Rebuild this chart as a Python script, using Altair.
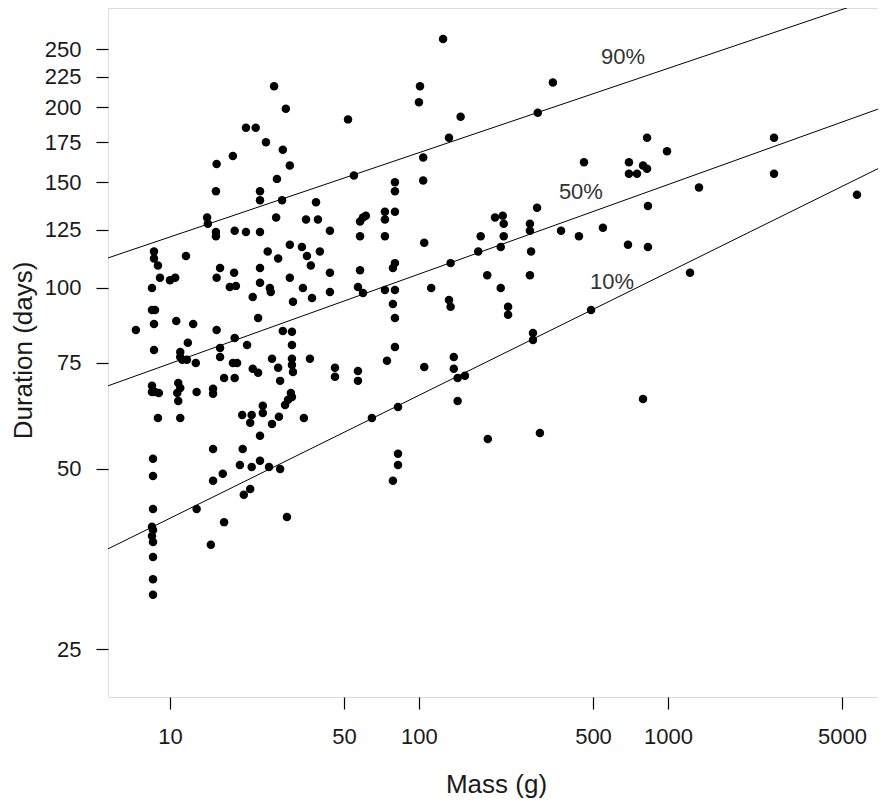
import math
import altair as alt
import pandas as pd

# ---- data ----
mass = [
    26.2, 29.2, 51.9, 20.2, 22.1, 24.3, 17.9, 15.4, 28.4, 30.3,
    54.8, 26.9, 15.3, 23.0, 23.0, 28.2, 38.6, 80.1, 80.1, 14.1,
    14.2, 26.7, 35.2, 39.3, 73.0, 80.1, 73.0, 59.6, 58.0, 15.3,
    15.3, 18.2, 20.2, 23.0, 43.9, 58.0, 73.0, 8.63, 8.63, 8.95,
    9.12, 11.6, 10.0, 10.5, 8.47, 24.7, 30.3, 27.2, 33.9, 35.5,
    36.8, 40.0, 43.9, 58.0, 80.1, 78.6, 15.9, 15.4, 18.1, 17.4,
    18.4, 23.0, 23.0, 30.3, 25.2, 25.4, 21.5, 34.2, 37.2, 31.2,
    43.9, 56.9, 59.6, 73.0, 80.1, 78.6, 80.1, 8.47, 8.71, 7.30,
    8.63, 10.6, 12.4, 15.4, 22.6, 18.2, 11.8, 20.4, 28.4, 30.9,
    30.9, 80.1, 8.63, 11.0, 11.0, 11.2, 11.7, 12.7, 15.9, 15.9,
    17.9, 18.6, 16.5, 18.2, 25.7, 27.2, 30.9, 30.9, 31.2, 27.7,
    21.5, 22.6, 36.5, 46.0, 46.0, 56.9, 56.9, 74.4, 8.47, 8.47,
    8.71, 9.03, 10.8, 11.0, 10.7, 10.8, 12.8, 14.9, 14.9, 8.95,
    11.0, 19.5, 21.3, 21.0, 23.6, 23.6, 25.7, 27.4, 29.0, 29.8,
    30.6, 30.9, 23.0, 34.5, 64.7, 82.4, 14.9, 19.6, 8.55, 8.55,
    14.9, 16.3, 19.1, 21.3, 23.0, 25.0, 27.7, 19.8, 21.0, 82.4,
    82.4, 78.6, 8.55, 12.8, 16.5, 29.5, 8.47, 8.55, 8.47, 8.55,
    14.6, 8.55, 8.55, 8.55, 125, 101, 100, 345, 147, 300,
    132, 104, 104, 105, 298, 202, 217, 219, 279, 279,
    219, 177, 173, 213, 282, 372, 439, 548, 460, 697,
    697, 751, 794, 824, 824, 991, 831, 691, 831, 1332,
    2666, 2666, 5741, 1226, 134, 112, 188, 213, 279, 132,
    134, 228, 228, 105, 138, 138, 143, 153, 143, 287,
    287, 491, 794, 189, 306, 61.2,
]

duration = [
    217, 199, 191, 185, 185, 175, 166, 161, 170, 160,
    154, 152, 145, 145, 140, 140, 139, 150, 145, 131,
    128, 131, 130, 130, 134, 134, 130, 131, 129, 124,
    122, 124.5, 124, 124, 124.5, 122, 122, 115, 112, 109,
    104, 113, 103, 104, 100, 115, 118, 112, 117, 113,
    109, 115, 106, 107, 110, 108, 108, 104, 106, 100.4,
    100.8, 108, 102, 104, 100, 98.5, 96.6, 100, 96.2, 94.8,
    98.5, 100.4, 98.1, 99.2, 99.2, 94, 89.1, 91.9, 91.9, 85.1,
    87.1, 88.1, 87.1, 85.1, 89.1, 82.5, 81, 80.3, 84.8, 84.5,
    80.3, 79.7, 78.8, 78.2, 76.7, 75.9, 75.9, 75, 79.4, 76.7,
    75, 75, 70.8, 70.8, 76.2, 73.6, 76.2, 74.4, 72.4, 70.0,
    73.3, 72.2, 76.2, 73.6, 71.1, 72.7, 70.0, 75.6, 68.7, 67.1,
    67.1, 66.8, 69.4, 68.1, 66.8, 64.8, 67.1, 67.9, 66.6, 60.7,
    60.7, 61.4, 61.4, 59.6, 63.6, 61.9, 59.3, 61.0, 63.8, 65.1,
    66.8, 65.8, 56.7, 60.7, 60.7, 63.3, 53.9, 53.9, 51.9, 48.6,
    47.7, 49.0, 50.7, 50.3, 51.5, 50.3, 49.9, 45.2, 46.2, 52.9,
    50.7, 47.7, 42.8, 42.8, 40.7, 41.5, 40.0, 39.5, 38.6, 37.7,
    37.3, 35.6, 32.7, 30.8, 260, 217, 204, 220, 193, 196,
    178, 165, 151, 119, 136, 131, 132, 128, 128, 124.5,
    122, 122, 115, 117, 115, 124.5, 122, 126, 162, 162,
    155, 155, 160, 158, 178, 169, 137, 118, 117, 147,
    178, 155, 143, 106, 110, 100, 105, 100, 105, 95.5,
    93, 93, 90.2, 73.8, 76.7, 73.3, 70.8, 71.4, 64.8, 84.1,
    81.9, 91.9, 65.3, 56.0, 57.3, 132,
]

# quantile regression lines: log10(duration) = intercept + slope * log10(mass)
quantiles = ["10%", "50%", "90%"]
intercepts = [1.411, 1.7247, 1.9445]
slopes = [0.205, 0.1492, 0.1405]

# where the quantile labels sit (data units)
label_mass = [596, 447, 660]
label_duration = [102.3, 144.5, 242.7]

x_ticks = [10, 50, 100, 500, 1000, 5000]
y_ticks = [25, 50, 75, 100, 125, 150, 175, 200, 225, 250]
x_domain = [5.64, 6973]
y_domain = [20.8, 292.9]

n = min(len(mass), len(duration))
points = pd.DataFrame({"mass": mass[:n], "duration": duration[:n]})

line_rows = []
for q, a, b in zip(quantiles, intercepts, slopes):
    for m in x_domain:
        line_rows.append({"q": q, "mass": m,
                          "duration": 10 ** (a + b * math.log10(m))})
lines = pd.DataFrame(line_rows)

labels = pd.DataFrame({"q": quantiles, "mass": label_mass,
                       "duration": label_duration})

FONT = "Liberation Sans"
TXT = "#1a1a1a"

xscale = alt.Scale(type="log", domain=x_domain, nice=False)
yscale = alt.Scale(type="log", domain=y_domain, nice=False)

W, H = 770, 689

x_enc = alt.X(
    "mass:Q", scale=xscale,
    axis=alt.Axis(
        values=x_ticks, format="d", title="Mass (g)", grid=False,
        domain=False, tickSize=12, tickColor="black", tickWidth=1.2,
        labelFont=FONT, labelFontSize=22, labelColor=TXT, labelPadding=17,
        labelFlush=False, labelOverlap=False,
        titleFont=FONT, titleFontSize=26, titleFontWeight="normal",
        titleColor=TXT, titleX=388, titleY=95, titleAlign="center",
        titleBaseline="alphabetic",
    ),
)
y_enc = alt.Y(
    "duration:Q", scale=yscale,
    axis=alt.Axis(
        values=y_ticks, format="d", title="Duration (days)", grid=False,
        domain=False, tickSize=12, tickColor="black", tickWidth=1.2,
        labelFont=FONT, labelFontSize=22, labelColor=TXT, labelPadding=15,
        labelFlush=False, labelOverlap=False,
        titleFont=FONT, titleFontSize=26, titleFontWeight="normal",
        titleColor=TXT, titleX=-77, titleY=342, titleAngle=-90,
        titleAlign="center", titleBaseline="alphabetic",
    ),
)

pts = alt.Chart(points).mark_circle(size=72, color="black", opacity=1).encode(
    x=x_enc, y=y_enc
)

qlines = alt.Chart(lines).mark_line(color="black", strokeWidth=1, clip=True).encode(
    x=alt.X("mass:Q", scale=xscale),
    y=alt.Y("duration:Q", scale=yscale),
    detail="q:N",
)

qlabels = alt.Chart(labels).mark_text(
    font=FONT, fontSize=22, color="#333333", align="center", baseline="middle"
).encode(
    x=alt.X("mass:Q", scale=xscale),
    y=alt.Y("duration:Q", scale=yscale),
    text="q:N",
)

chart = (
    alt.layer(qlines, pts, qlabels)
    .properties(
        width=W, height=H,
        autosize=alt.AutoSizeParams(type="none"),
        padding={"left": 100, "top": 0, "right": 0, "bottom": 101},
    )
    .configure_view(stroke="black", strokeWidth=1.3)
    .configure(background="white")
)

chart.save("out.html", embed_options={"renderer": "svg", "actions": False})
